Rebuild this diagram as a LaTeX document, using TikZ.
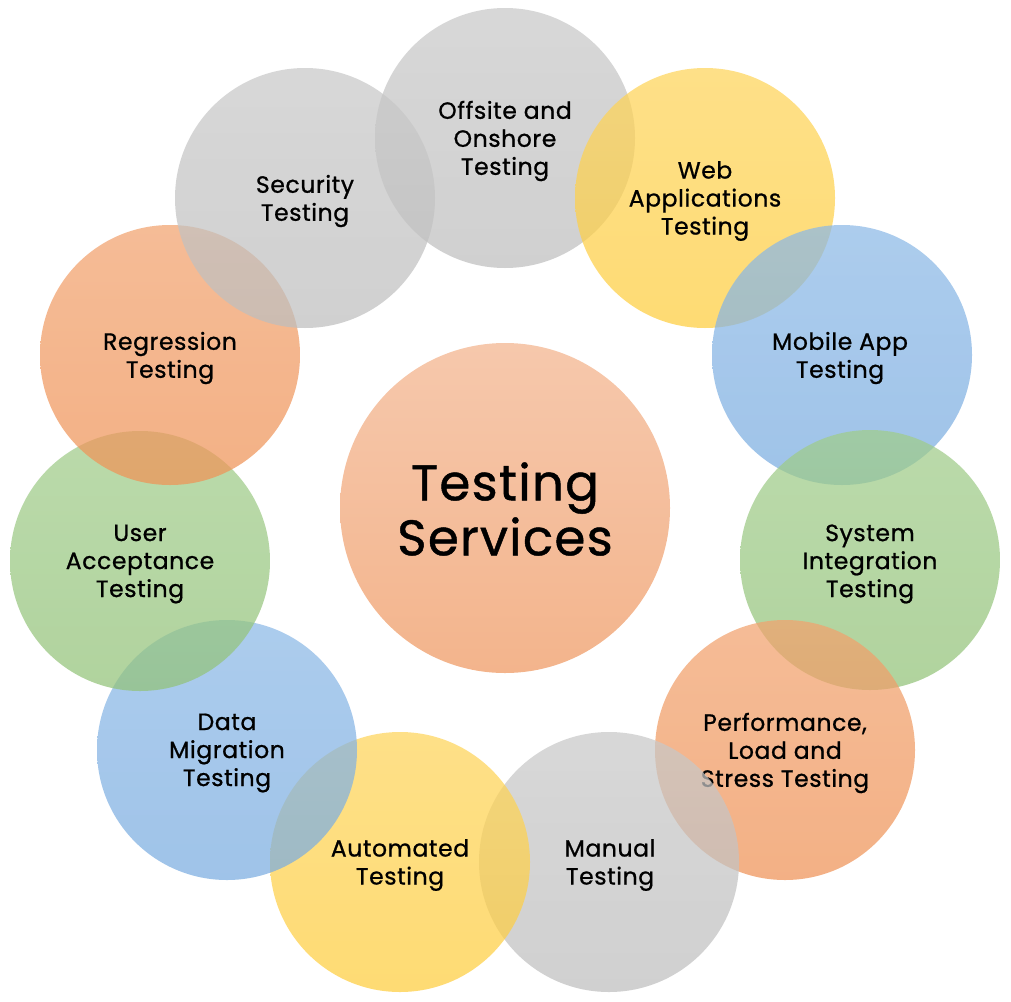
\documentclass[tikz,border=0pt]{standalone}
\usepackage{fontspec}
\setmainfont{Poppins}[FakeBold=0.9, LetterSpace=2.5]
\definecolor{cgray}{RGB}{190,190,190}
\definecolor{cgrayT}{RGB}{200,200,200}
\definecolor{cyel}{RGB}{254,205,62}
\definecolor{cyelT}{RGB}{254,212,90}
\definecolor{cblue}{RGB}{122,172,224}
\definecolor{cblueT}{RGB}{140,185,230}
\definecolor{cgreen}{RGB}{146,194,120}
\definecolor{cgreenT}{RGB}{160,204,138}
\definecolor{corg}{RGB}{239,146,86}
\definecolor{corgT}{RGB}{241,162,110}
\definecolor{ccen}{RGB}{243,180,140}
\definecolor{ccenT}{RGB}{246,200,172}
\tikzset{
  bubble/.style={circle, minimum size=260pt, inner sep=0pt, opacity=0.72},
  lbl/.style={align=center, font=\fontsize{23.5}{28}\selectfont, text=black, yshift=-3pt},
  gbub/.style={bubble, top color=cgrayT, bottom color=cgray},
  ybub/.style={bubble, top color=cyelT, bottom color=cyel},
  bbub/.style={bubble, top color=cblueT, bottom color=cblue},
  vbub/.style={bubble, top color=cgreenT, bottom color=cgreen},
  obub/.style={bubble, top color=corgT, bottom color=corg}
}
\begin{document}
\begin{tikzpicture}[x=1pt,y=-1pt]
\useasboundingbox (0,0) rectangle (1011,1001);
% center
\node[circle, minimum size=330pt, inner sep=0pt, top color=ccenT, bottom color=ccen] (center) at (505,508) {};
\node[align=center, font=\fontsize{50}{55}\selectfont] (centerT) at (505,509) {Testing\\Services};
% ring
\node[gbub] (off) at (505,138) {};
\node[lbl] (offT) at (505,138) {Offsite and\\Onshore\\Testing};
\node[ybub] (web) at (705,198) {};
\node[lbl] (webT) at (705,198) {Web\\Applications\\Testing};
\node[bbub] (mob) at (842,355) {};
\node[lbl] (mobT) at (840,355) {Mobile App\\Testing};
\node[vbub] (sys) at (870,560) {};
\node[lbl] (sysT) at (870,561) {System\\Integration\\Testing};
\node[obub] (perf) at (785,750) {};
\node[lbl] (perfT) at (785,750) {Performance,\\Load and\\Stress Testing};
\node[gbub] (man) at (609,862) {};
\node[lbl] (manT) at (610,862) {Manual\\Testing};
\node[ybub] (auto) at (400,862) {};
\node[lbl] (autoT) at (400,862) {Automated\\Testing};
\node[bbub] (data) at (227,750) {};
\node[lbl] (dataT) at (227,750) {Data\\Migration\\Testing};
\node[vbub] (user) at (140,561) {};
\node[lbl] (userT) at (140,561) {User\\Acceptance\\Testing};
\node[obub] (reg) at (170,355) {};
\node[lbl] (regT) at (170,355) {Regression\\Testing};
\node[gbub] (sec) at (305,198) {};
\node[lbl] (secT) at (305,198) {Security\\Testing};
\end{tikzpicture}
\end{document}
